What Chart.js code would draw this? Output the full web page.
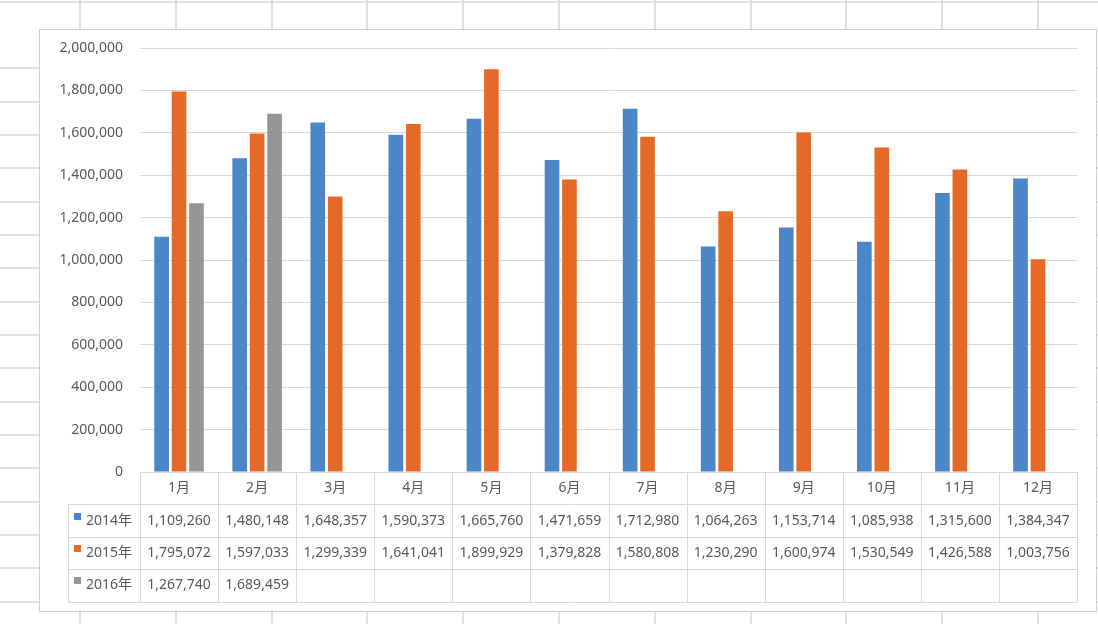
<!DOCTYPE html>
<html>
<head>
<meta charset="utf-8">
<script src="https://cdn.jsdelivr.net/npm/chart.js@4.4.1/dist/chart.umd.min.js"></script>
<style>
  html, body { margin: 0; padding: 0; background: #fff; }
  #sales { display: block; }
</style>
</head>
<body>
<canvas id="sales" width="1098" height="624"></canvas>
<script>
// Data
var months = ["1月", "2月", "3月", "4月", "5月", "6月", "7月", "8月", "9月", "10月", "11月", "12月"];
var years = ["2014年", "2015年", "2016年"];
var sales2014 = [1109260, 1480148, 1648357, 1590373, 1665760, 1471659, 1712980, 1064263, 1153714, 1085938, 1315600, 1384347];
var sales2015 = [1795072, 1597033, 1299339, 1641041, 1899929, 1379828, 1580808, 1230290, 1600974, 1530549, 1426588, 1003756];
var sales2016 = [1267740, 1689459, null, null, null, null, null, null, null, null, null, null];
var yMax = 2000000;
var yStep = 200000;

var colors = ["#4a86c8", "#e66a27", "#969696"];
var FONT = "'Noto Sans', 'Noto Sans CJK JP', sans-serif";
var TEXT = "#595959";

function fmt(v) {
  return Number(v).toLocaleString("en-US");
}

// Spreadsheet cells behind the chart, plus the chart box
var sheetPlugin = {
  id: "sheet",
  beforeDraw: function (chart) {
    var ctx = chart.ctx;
    ctx.save();
    ctx.fillStyle = "#fff";
    ctx.fillRect(0, 0, chart.width, chart.height);
    ctx.strokeStyle = "#d8d8d8";
    ctx.lineWidth = 1.5;
    ctx.beginPath();
    for (var x = 80; x < chart.width; x += 95.8) {
      ctx.moveTo(Math.round(x), 0);
      ctx.lineTo(Math.round(x), chart.height);
    }
    ctx.moveTo(0, 2);
    ctx.lineTo(chart.width, 2);
    for (var y = 68.3; y < chart.height; y += 33.33) {
      ctx.moveTo(0, Math.round(y));
      ctx.lineTo(chart.width, Math.round(y));
    }
    ctx.stroke();

    ctx.fillStyle = "#fff";
    ctx.fillRect(39, 29, 1057, 582);
    ctx.strokeStyle = "#d0d0d0";
    ctx.lineWidth = 1;
    ctx.strokeRect(39.5, 29.5, 1057, 582);
    ctx.restore();
  }
};

// Data table under the plot, aligned to the x scale
var tablePlugin = {
  id: "dataTable",
  afterDraw: function (chart) {
    var ctx = chart.ctx;
    var xs = chart.scales.x;
    var area = chart.chartArea;
    var n = months.length;
    var colW = (area.right - area.left) / n;
    var top = area.bottom;
    var rowH = 32.4;
    var legendLeft = 68;
    var sets = chart.data.datasets;
    var bottom = top + rowH * (sets.length + 1);

    ctx.save();
    ctx.strokeStyle = "#d9d9d9";
    ctx.lineWidth = 1;
    ctx.beginPath();
    ctx.moveTo(area.left, Math.round(top) + 0.5);
    ctx.lineTo(area.right, Math.round(top) + 0.5);
    for (var r = 1; r <= sets.length + 1; r++) {
      var ly = Math.round(top + r * rowH) + 0.5;
      ctx.moveTo(legendLeft, ly);
      ctx.lineTo(area.right, ly);
    }
    for (var i = 0; i <= n; i++) {
      var lx = Math.round(area.left + i * colW) + 0.5;
      ctx.moveTo(lx, top);
      ctx.lineTo(lx, Math.round(bottom) + 0.5);
    }
    ctx.moveTo(legendLeft + 0.5, Math.round(top + rowH));
    ctx.lineTo(legendLeft + 0.5, Math.round(bottom) + 0.5);
    ctx.stroke();

    ctx.font = "14px " + FONT;
    ctx.textBaseline = "middle";
    ctx.textAlign = "center";
    ctx.fillStyle = TEXT;
    months.forEach(function (m, i) {
      ctx.fillText(m, xs.getPixelForValue(i), top + rowH / 2);
    });

    sets.forEach(function (ds, r) {
      var cy = top + (r + 1.5) * rowH;
      ctx.fillStyle = ds.backgroundColor;
      ctx.fillRect(74, Math.round(cy) - 8, 7, 7);
      ctx.fillStyle = TEXT;
      ctx.textAlign = "left";
      ctx.fillText(ds.label, 86, cy);
      ctx.textAlign = "center";
      ds.data.forEach(function (v, i) {
        if (v == null) return;
        ctx.fillText(fmt(v), xs.getPixelForValue(i), cy);
      });
    });
    ctx.restore();
  }
};

var ctx = document.getElementById("sales").getContext("2d");
var chart_sales = new Chart(ctx, {
  type: "bar",
  data: {
    labels: months,
    datasets: [
      { label: years[0], data: sales2014, backgroundColor: colors[0] },
      { label: years[1], data: sales2015, backgroundColor: colors[1] },
      { label: years[2], data: sales2016, backgroundColor: colors[2] }
    ]
  },
  options: {
    responsive: false,
    animation: false,
    devicePixelRatio: 1,
    categoryPercentage: 0.67,
    barPercentage: 0.84,
    layout: {
      padding: { left: 0, top: 48, right: 21, bottom: 152 }
    },
    plugins: {
      legend: { display: false },
      tooltip: { enabled: false }
    },
    scales: {
      x: {
        display: false
      },
      y: {
        min: 0,
        max: yMax,
        ticks: {
          stepSize: yStep,
          color: TEXT,
          padding: 17,
          font: { family: FONT, size: 14 },
          callback: function (v) { return fmt(v); }
        },
        grid: { color: "#d9d9d9", drawTicks: false },
        border: { display: false },
        afterFit: function (s) { s.width = 140; }
      }
    }
  },
  plugins: [sheetPlugin, tablePlugin]
});
</script>
</body>
</html>
